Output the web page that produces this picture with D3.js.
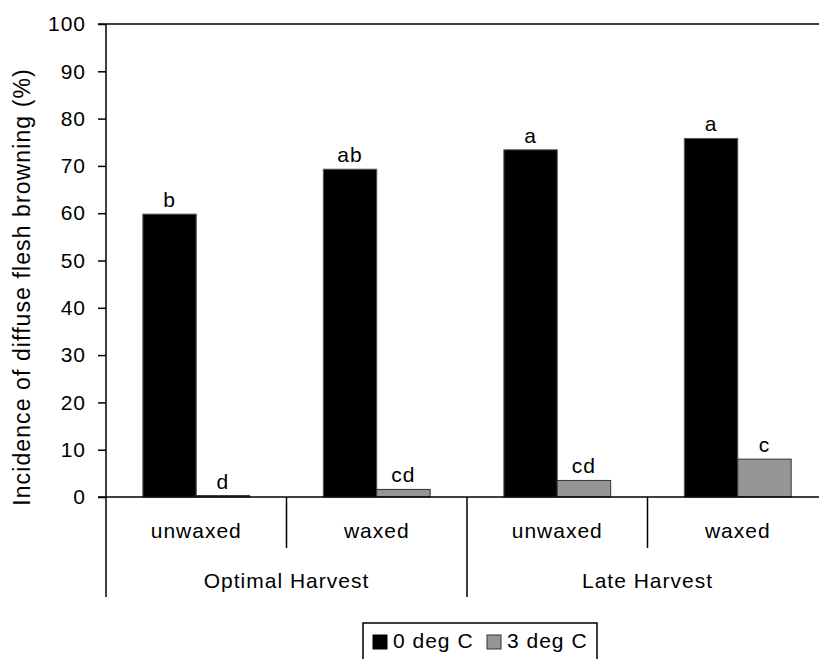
<!DOCTYPE html>
<html>
<head>
<meta charset="utf-8">
<script src="https://cdn.jsdelivr.net/npm/d3@7"></script>
<style>
  body { margin: 0; background: #fff; }
  svg { display: block; font-family: "Liberation Sans", Arial, sans-serif; }
</style>
</head>
<body>
<svg id="chart"></svg>
<script>
// data
const treatments = ["unwaxed", "waxed", "unwaxed", "waxed"];
const harvests = ["Optimal Harvest", "Late Harvest"];
const seriesNames = ["0 deg C", "3 deg C"];
const cold0 = [59.8, 69.3, 73.4, 75.8];
const cold3 = [0.3, 1.6, 3.5, 8.0];
const letters0 = ["b", "ab", "a", "a"];
const letters3 = ["d", "cd", "cd", "c"];
const yTicks = [0, 10, 20, 30, 40, 50, 60, 70, 80, 90, 100];

const width = 819, height = 659;
const fills = ["#000000", "#969696"];
const strokes = ["#555555", "#333333"];
const fs = 21, ls = 1;

const svg = d3.select("#chart")
    .attr("width", width)
    .attr("height", height);

const x = d3.scaleBand()
    .domain(d3.range(treatments.length))
    .range([106, 828]);

const xs = d3.scaleBand()
    .domain(seriesNames)
    .range([0, x.bandwidth()])
    .paddingOuter(0.69);

const y = d3.scaleLinear()
    .domain([0, 100])
    .range([497, 24]);

const rows = treatments.map((t, i) => ({
    i, t,
    vals: [cold0[i], cold3[i]],
    lets: [letters0[i], letters3[i]]
}));

// top frame line
svg.append("line")
    .attr("x1", 98).attr("x2", width)
    .attr("y1", y(100)).attr("y2", y(100))
    .attr("stroke", "#000").attr("stroke-width", 1.5);

// bars
const grp = svg.append("g")
    .selectAll("g")
    .data(rows)
    .join("g")
    .attr("transform", d => `translate(${x(d.i)},0)`);

grp.selectAll("rect")
    .data(d => d.vals.map((v, k) => ({ v, k, s: seriesNames[k] })))
    .join("rect")
    .attr("x", d => xs(d.s))
    .attr("width", xs.bandwidth())
    .attr("y", d => y(d.v))
    .attr("height", d => y(0) - y(d.v))
    .attr("fill", d => fills[d.k])
    .attr("stroke", d => strokes[d.k])
    .attr("stroke-width", 1);

grp.selectAll("text.sig")
    .data(d => d.vals.map((v, k) => ({ v, k, s: seriesNames[k], l: d.lets[k] })))
    .join("text")
    .attr("class", "sig")
    .attr("x", d => xs(d.s) + xs.bandwidth() / 2)
    .attr("y", d => y(d.v) - 7)
    .attr("text-anchor", "middle")
    .attr("font-size", fs)
    .attr("letter-spacing", ls)
    .text(d => d.l);

// y axis
const yAxis = svg.append("g")
    .attr("transform", "translate(106,0)")
    .call(d3.axisLeft(y).tickValues(yTicks).tickSize(8).tickPadding(12))
    .call(g => g.select(".domain").remove());
yAxis.selectAll("line").attr("stroke", "#000").attr("stroke-width", 1.5);
yAxis.selectAll("text").attr("font-size", fs).attr("fill", "#000")
    .attr("letter-spacing", ls)
    .attr("font-family", "Liberation Sans, Arial, sans-serif");

svg.append("line")
    .attr("x1", 106).attr("x2", 106)
    .attr("y1", y(100)).attr("y2", 597)
    .attr("stroke", "#000").attr("stroke-width", 1.5);

// x axis line
svg.append("line")
    .attr("x1", 98).attr("x2", width)
    .attr("y1", y(0)).attr("y2", y(0))
    .attr("stroke", "#000").attr("stroke-width", 1.5);

// category dividers: short between treatments, long between harvests
svg.append("g")
    .selectAll("line")
    .data(d3.range(1, treatments.length + 1))
    .join("line")
    .attr("x1", i => x(i - 1) + x.bandwidth())
    .attr("x2", i => x(i - 1) + x.bandwidth())
    .attr("y1", y(0))
    .attr("y2", i => i % 2 === 0 ? 597 : 548)
    .attr("stroke", "#000").attr("stroke-width", 1.5);

svg.append("g")
    .selectAll("text")
    .data(rows)
    .join("text")
    .attr("x", d => x(d.i) + x.bandwidth() / 2)
    .attr("y", 538)
    .attr("text-anchor", "middle")
    .attr("font-size", fs)
    .attr("letter-spacing", ls)
    .text(d => d.t);

svg.append("g")
    .selectAll("text")
    .data(harvests)
    .join("text")
    .attr("x", (h, j) => x(j * 2) + x.bandwidth())
    .attr("y", 588)
    .attr("text-anchor", "middle")
    .attr("font-size", fs)
    .attr("letter-spacing", ls)
    .text(h => h);

// y title
svg.append("text")
    .attr("transform", "translate(30,287) rotate(-90)")
    .attr("text-anchor", "middle")
    .attr("font-size", 23)
    .attr("letter-spacing", 1.1)
    .text("Incidence of diffuse flesh browning (%)");

// legend (cut off by the bottom edge, as in the original)
const lg = svg.append("g").attr("transform", "translate(363,623)");
lg.append("rect")
    .attr("width", 234).attr("height", 40)
    .attr("fill", "#fff").attr("stroke", "#000").attr("stroke-width", 1.5);
const legX = [10, 124];
seriesNames.forEach((s, k) => {
    lg.append("rect")
        .attr("x", legX[k]).attr("y", 12)
        .attr("width", 14).attr("height", 14)
        .attr("fill", fills[k])
        .attr("stroke", k === 0 ? "#000" : "#333");
    lg.append("text")
        .attr("x", legX[k] + 20).attr("y", 25)
        .attr("font-size", fs)
        .attr("letter-spacing", ls)
        .text(s);
});
</script>
</body>
</html>
